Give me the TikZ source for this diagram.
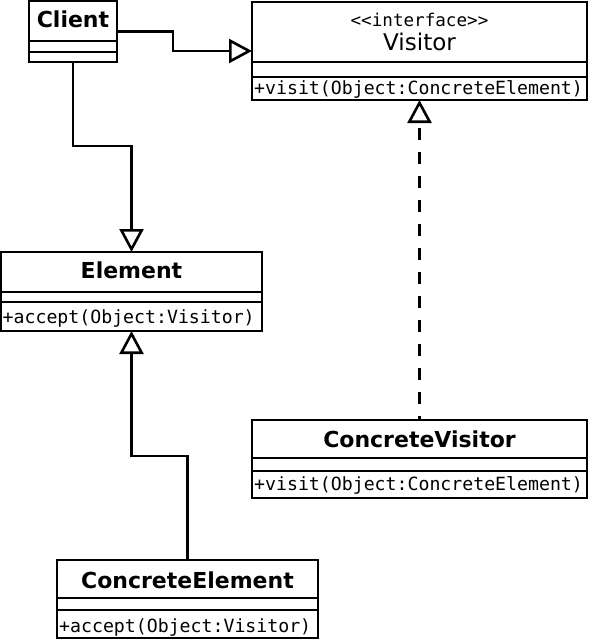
\documentclass[tikz,border=0pt]{standalone}
\usepackage{fontspec}
\setmainfont{DejaVu Sans}
\setmonofont{DejaVu Sans Mono}
\usetikzlibrary{arrows.meta}
\tikzset{
  classbox/.style={draw, line width=2.6pt, rectangle, inner sep=0pt, outer sep=0pt},
  divider/.style={line width=2.6pt},
  cname/.style={inner sep=0pt, anchor=base, font=\bfseries\fontsize{22}{24}\selectfont},
  meth/.style={inner sep=0pt, anchor=base west, font=\ttfamily\fontsize{18.2}{20}\selectfont},
  gen/.style={line width=2.6pt, -{Triangle[open, length=23pt, width=24pt]}},
}
\begin{document}
\begin{tikzpicture}[x=1pt, y=-1pt]
\useasboundingbox (0,0) rectangle (591,640);
% class boxes
\node[classbox, minimum width=88pt, minimum height=61pt] (client) at (73,31.5) {};
\node[classbox, minimum width=335pt, minimum height=98pt] (visitor) at (419.5,51) {};
\node[classbox, minimum width=261pt, minimum height=79pt] (element) at (131.5,291.5) {};
\node[classbox, minimum width=335pt, minimum height=78pt] (cv) at (419.5,459) {};
\node[classbox, minimum width=261pt, minimum height=78pt] (ce) at (187.5,599) {};
% dividers
\draw[divider] ([yshift=-40pt]client.north west) -- ([yshift=-40pt]client.north east);
\draw[divider] ([yshift=-51pt]client.north west) -- ([yshift=-51pt]client.north east);
\draw[divider] ([yshift=-60pt]visitor.north west) -- ([yshift=-60pt]visitor.north east);
\draw[divider] ([yshift=-75pt]visitor.north west) -- ([yshift=-75pt]visitor.north east);
\draw[divider] ([yshift=-40pt]element.north west) -- ([yshift=-40pt]element.north east);
\draw[divider] ([yshift=-50pt]element.north west) -- ([yshift=-50pt]element.north east);
\draw[divider] ([yshift=-38pt]cv.north west) -- ([yshift=-38pt]cv.north east);
\draw[divider] ([yshift=-51pt]cv.north west) -- ([yshift=-51pt]cv.north east);
\draw[divider] ([yshift=-38pt]ce.north west) -- ([yshift=-38pt]ce.north east);
\draw[divider] ([yshift=-50pt]ce.north west) -- ([yshift=-50pt]ce.north east);
% texts
\node[cname] (tclient) at (73,27) {Client};
\node[inner sep=0pt, anchor=base, font=\ttfamily\fontsize{17.6}{20}\selectfont] (tinterface) at (419.5,26) {<<interface>>};
\node[inner sep=0pt, anchor=base, font=\fontsize{23}{26}\selectfont] (tvisitor) at (419.5,50) {Visitor};
\node[meth] (mvisitor) at (254,94) {+visit(Object:ConcreteElement)};
\node[cname] (telement) at (131.5,278) {Element};
\node[meth] (melement) at (2.5,323) {+accept(Object:Visitor)};
\node[cname] (tcv) at (419.5,447) {ConcreteVisitor};
\node[meth] (mcv) at (254,490) {+visit(Object:ConcreteElement)};
\node[cname] (tce) at (187.5,588) {ConcreteElement};
\node[meth] (mce) at (59,632) {+accept(Object:Visitor)};
% connectors
\draw[gen] (client.east) -- ++(56,0) |- (visitor.west);
\draw[gen] (client.south) -- ++(0,84) -| (element.north);
\draw[gen] (ce.north) -- ++(0,-104) -| (element.south);
\draw[gen, dash pattern=on 12pt off 12pt, dash phase=8pt] (cv.north) -- (visitor.south);
\end{tikzpicture}
\end{document}
